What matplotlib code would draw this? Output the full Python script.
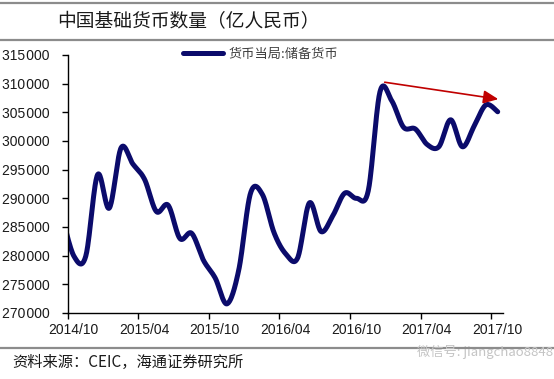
import numpy as np
import matplotlib
matplotlib.use("Agg")
import matplotlib.pyplot as plt
from matplotlib.ticker import FuncFormatter, FixedLocator
from matplotlib.transforms import ScaledTranslation
from matplotlib.lines import Line2D

plt.rcParams['font.family'] = ['Liberation Sans', 'Noto Sans CJK SC', 'DejaVu Sans']

# ---------------- data ----------------
months = ["2014/09", "2014/10", "2014/11", "2014/12",
          "2015/01", "2015/02", "2015/03", "2015/04", "2015/05", "2015/06",
          "2015/07", "2015/08", "2015/09", "2015/10", "2015/11", "2015/12",
          "2016/01", "2016/02", "2016/03", "2016/04", "2016/05", "2016/06",
          "2016/07", "2016/08", "2016/09", "2016/10", "2016/11", "2016/12",
          "2017/01", "2017/02", "2017/03", "2017/04", "2017/05", "2017/06",
          "2017/07", "2017/08", "2017/09", "2017/10"]
reserve_money = [286800, 279900, 279900, 294100,
                 288300, 298800, 296000, 293300, 287700, 288800,
                 283000, 283900, 279200, 276100, 271600, 277500,
                 290900, 290700, 284000, 280300, 279600, 289200,
                 284200, 287000, 290900, 290000, 291300, 308600,
                 307000, 302400, 302100, 299400, 299000, 303700,
                 299000, 302600, 306300, 305100]
tick_labels = ["2014/10", "2015/04", "2015/10", "2016/04", "2016/10", "2017/04", "2017/10"]
series_name = "货币当局:储备货币"
title = "中国基础货币数量（亿人民币）"
source = "资料来源：CEIC，海通证券研究所"
watermark = "微信号: jiangchao8848"

# arrow annotation (month index from 2014/10, value)
arrow_start = (26.95, 310250)
arrow_end = (36.6, 307300)

# ---------------- helpers ----------------
def month_index(s):
    y, m = s.split("/")
    return (int(y) - 2014) * 12 + int(m) - 10

POINT_OFFSET = 0.55  # points sit inside each month

def excel_smooth(x, y, n=24):
    x = np.asarray(x, float); y = np.asarray(y, float)
    xs, ys = [], []
    N = len(x)
    for i in range(N - 1):
        im1 = max(i - 1, 0); ip2 = min(i + 2, N - 1)
        p0 = np.array([x[i], y[i]]); p3 = np.array([x[i + 1], y[i + 1]])
        p1 = p0 + (np.array([x[i + 1], y[i + 1]]) - np.array([x[im1], y[im1]])) / 6
        p2 = p3 - (np.array([x[ip2], y[ip2]]) - np.array([x[i], y[i]])) / 6
        t = np.linspace(0, 1, n, endpoint=(i == N - 2))[:, None]
        pts = ((1 - t) ** 3) * p0 + 3 * ((1 - t) ** 2) * t * p1 + 3 * (1 - t) * t ** 2 * p2 + t ** 3 * p3
        xs.append(pts[:, 0]); ys.append(pts[:, 1])
    return np.concatenate(xs), np.concatenate(ys)

xm = np.array([month_index(m) for m in months]) + POINT_OFFSET
sx, sy = excel_smooth(xm, reserve_money)

# ---------------- figure ----------------
W, H = 554, 379
fig = plt.figure(figsize=(W / 100, H / 100), dpi=100)
fig.patch.set_facecolor("white")

def fy(py):
    return 1 - py / H

# separator lines
for py in (3, 40, 348):
    fig.add_artist(Line2D([0, 1], [fy(py), fy(py)], transform=fig.transFigure,
                          color="#8c8c8c", lw=1.6))

fig.text(57 / W, fy(22), title, fontsize=13.5, family=['Noto Sans CJK SC'],
         color="#1a1a1a", ha="left", va="center")
fig.text(12 / W, fy(362), source, fontsize=11, family=['Noto Sans CJK SC', 'DejaVu Sans'],
         color="#1a1a1a", ha="left", va="center")
fig.text(553 / W, fy(352), watermark, fontsize=9.5, family=['Noto Sans CJK SC', 'DejaVu Sans'],
         color="#c4c4c4", ha="right", va="center")

left, right, top, bottom = 67.5, 503, 55, 313
ax = fig.add_axes([left / W, 1 - bottom / H, (right - left) / W, (bottom - top) / H])
ax.set_facecolor("white")

line, = ax.plot(sx, sy, color="#0b0b6b", lw=3.6, solid_capstyle="round", clip_on=True)

ax.set_xlim(0, 37)
ax.set_ylim(270000, 315000)
ax.yaxis.set_major_locator(FixedLocator(np.arange(270000, 315001, 5000)))
ax.yaxis.set_major_formatter(FuncFormatter(lambda v, p: format(int(v), ",").replace(",", "\u200a")))
ax.set_xticks([month_index(t) for t in tick_labels])
ax.set_xticklabels(tick_labels)

for s in ("top", "right"):
    ax.spines[s].set_visible(False)
for s in ("left", "bottom"):
    ax.spines[s].set_color("#000000")
    ax.spines[s].set_linewidth(1.0)

ax.tick_params(axis="y", direction="out", length=4, width=1, pad=9, labelsize=10, labelcolor="#1a1a1a")
ax.tick_params(axis="x", direction="out", length=4, width=1, pad=3, labelsize=10, labelcolor="#1a1a1a")
for lab in ax.get_xticklabels():
    lab.set_transform(lab.get_transform() + ScaledTranslation(6 / 100, 0, fig.dpi_scale_trans))

ax.annotate("", xy=arrow_end, xytext=arrow_start,
            arrowprops=dict(arrowstyle="-|>,head_length=0.9,head_width=0.4",
                            color="#c00000", lw=1.2, shrinkA=0, shrinkB=0))

leg = ax.legend([line], [series_name], loc="upper left", bbox_to_anchor=(183 / W, fy(48)),
                bbox_transform=fig.transFigure, frameon=False, handlelength=3.0,
                handletextpad=0.45, borderpad=0, borderaxespad=0,
                prop={'family': ['Noto Sans CJK SC'], 'size': 9.5})
for t in leg.get_texts():
    t.set_color("#404040")

fig.savefig("out.png", dpi=100, facecolor="white")
